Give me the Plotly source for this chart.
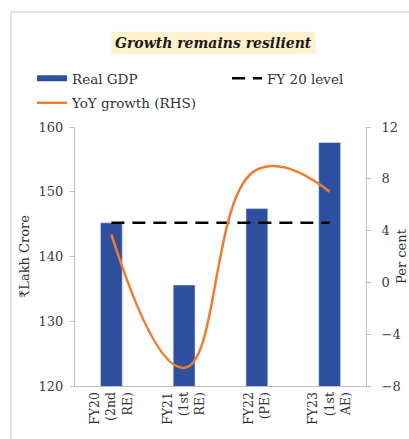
import plotly.graph_objects as go

categories = ["FY20<br>(2nd<br>RE)", "FY21<br>(1st<br>RE)", "FY22<br>(PE)", "FY23<br>(1st<br>AE)"]
real_gdp = [145.2, 135.6, 147.4, 157.6]
yoy_growth = [3.7, -6.6, 8.7, 7.0]
fy20_level = [145.2, 145.2, 145.2, 145.2]

BLUE = "#2F509E"
ORANGE = "#EE7D31"
FONT = "DejaVu Serif"
TXT = "#333333"

fig = go.Figure()
fig.add_trace(go.Bar(x=categories, y=real_gdp, marker_color=BLUE, width=0.3,
                     showlegend=False, yaxis="y"))
# legend proxy for bar (wide line swatch)
fig.add_trace(go.Scatter(x=[None], y=[None], mode="lines", name="Real GDP",
                         line=dict(color=BLUE, width=6), legend="legend",
                         legendgroup="a"))
fig.add_trace(go.Scatter(x=categories, y=fy20_level, mode="lines", name="FY 20 level",
                         line=dict(color="black", width=2.5, dash="13px,8px"),
                         legend="legend2"))
fig.add_trace(go.Scatter(x=categories, y=yoy_growth, mode="lines", name="YoY growth (RHS)",
                         line=dict(color=ORANGE, width=2.5, shape="spline", smoothing=1.3),
                         yaxis="y2", legend="legend", legendgroup="b"))

L, R, T, B = 75, 43, 127, 53
W, H = 409, 439
pw, ph = W - L - R, H - T - B

def px_x(x):
    return (x - L) / pw

def px_y(y):
    return (H - B - y) / ph

legend_font = dict(family=FONT, size=13.5, color=TXT)

fig.update_layout(
    width=W, height=H,
    margin=dict(l=L, r=R, t=T, b=B),
    paper_bgcolor="white", plot_bgcolor="white",
    font=dict(family=FONT, size=12, color="#404040"),
    legend=dict(orientation="v", x=px_x(32), y=px_y(63), xanchor="left", yanchor="top",
                font=legend_font, bgcolor="rgba(0,0,0,0)", tracegroupgap=4),
    legend2=dict(orientation="v", x=px_x(227), y=px_y(63), xanchor="left", yanchor="top",
                 font=legend_font, bgcolor="rgba(0,0,0,0)"),
    xaxis=dict(tickangle=-90, showline=True, linecolor="#BFBFBF", linewidth=1,
               ticks="", tickfont=dict(size=12.5, color=TXT), showgrid=False,
               automargin=False),
    yaxis=dict(range=[120, 160], dtick=10, showgrid=False, zeroline=False,
               showline=True, linecolor="#BFBFBF", ticks="outside", ticklen=4,
               tickcolor="#BFBFBF", tickfont=dict(size=13, color="#404040"),
               ticklabelstandoff=4, automargin=False,
               title=dict(text="₹Lakh Crore", font=dict(size=13, color=TXT), standoff=6)),
    yaxis2=dict(range=[-8, 12], dtick=4, overlaying="y", side="right", showgrid=False,
                zeroline=False, showline=True, linecolor="#BFBFBF", ticks="outside",
                ticklen=4, tickcolor="#BFBFBF", tickfont=dict(size=13, color="#404040"),
                ticklabelstandoff=8, automargin=False,
                title=dict(text="Per cent", font=dict(size=13, color=TXT), standoff=2)),
    annotations=[dict(text="<b><i>Growth remains resilient</i></b>", xref="paper", yref="paper",
                      x=px_x(213), y=px_y(43), xanchor="center", yanchor="middle",
                      showarrow=False, bgcolor="#FFF2CC", borderpad=3,
                      font=dict(family=FONT, size=14, color="#1a1a1a"))],
    shapes=[dict(type="rect", xref="paper", yref="paper",
                 x0=px_x(11), x1=px_x(420), y0=px_y(12), y1=px_y(450),
                 line=dict(color="#D9D9D9", width=1.5), layer="below")],
)

fig.write_html("out.html")
